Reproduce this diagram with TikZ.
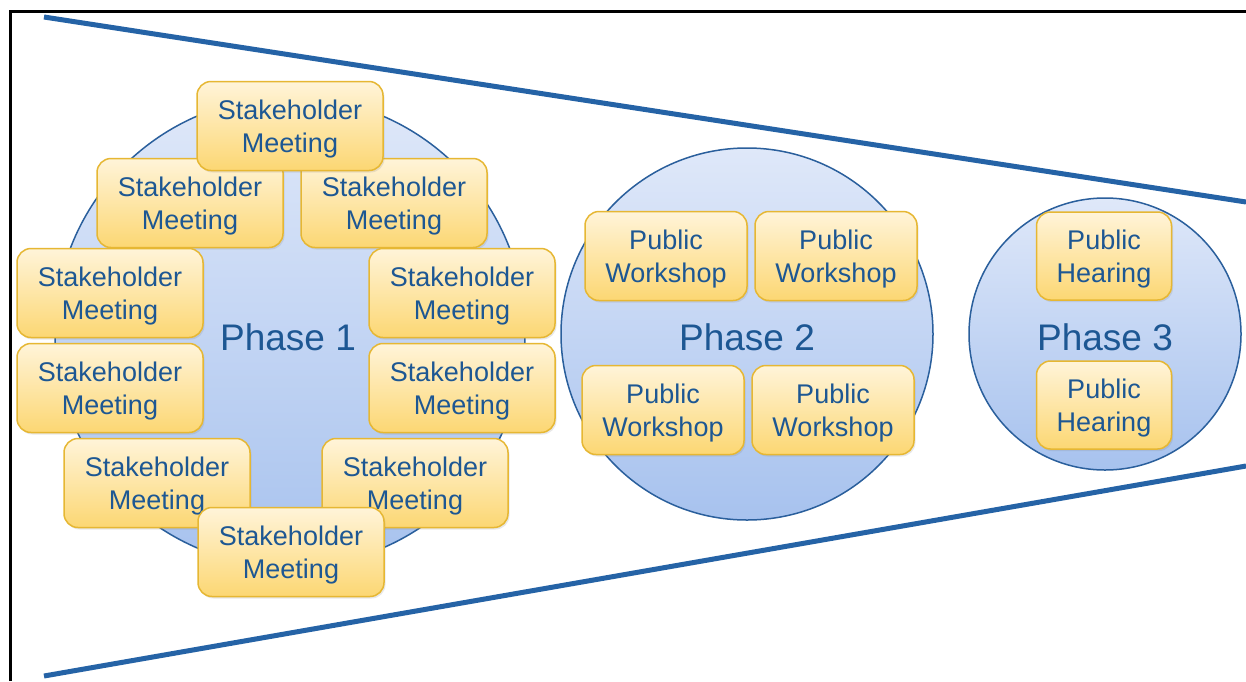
\documentclass[tikz,border=0pt]{standalone}
\usepackage{fontspec}
\setmainfont{Liberation Sans}
\usetikzlibrary{shadows}
\definecolor{circtop}{HTML}{DFE8F9}
\definecolor{circbot}{HTML}{A7C2EE}
\definecolor{circline}{HTML}{2A5F9C}
\definecolor{boxtop}{HTML}{FFF4D9}
\definecolor{boxbot}{HTML}{FCD773}
\definecolor{boxline}{HTML}{E6B733}
\definecolor{txtblue}{HTML}{1D5793}
\definecolor{bigline}{HTML}{2563A6}
\tikzset{
  phase/.style={circle, draw=circline, line width=1.5pt, top color=circtop, bottom color=circbot, inner sep=0pt},
  phaselabel/.style={text=txtblue, font=\fontsize{37}{40}\selectfont},
  event/.style={rectangle, rounded corners=14pt, draw=boxline, line width=1.5pt, top color=boxtop, bottom color=boxbot,
    inner sep=0pt,
    drop shadow={opacity=0.18, shadow xshift=1.5pt, shadow yshift=-2pt},
    label={[text=txtblue, font=\fontsize{27}{33}\selectfont, align=center, yshift=-3pt]center:#1}},
  sm/.style={event={#1}, minimum width=186pt, minimum height=89pt},
  pw/.style={event={#1}, minimum width=162pt, minimum height=89pt},
  ph/.style={event={#1}, minimum width=135pt, minimum height=88pt},
  funnel/.style={draw=bigline, line width=5pt},
  frame/.style={draw=black, line width=3pt}
}
\begin{document}
\begin{tikzpicture}[x=1pt, y=-1pt]
\useasboundingbox (0,0) rectangle (1246,681);
\fill[white] (0,0) rectangle (1246,681);
% frame
\draw[frame] (10,681) -- (10,11) -- (1246,11);
% funnel lines
\coordinate (t1) at (44,17);
\coordinate (t2) at (1246,202);
\coordinate (b1) at (44,676);
\coordinate (b2) at (1246,466);
\draw[funnel] (t1) -- (t2);
\draw[funnel] (b1) -- (b2);
% phase circles
\node[phase, minimum size=470pt] (p1) at (290,332) {};
\node[phase, minimum size=372pt] (p2) at (747,334) {};
\node[phase, minimum size=272pt] (p3) at (1105,334) {};
\node[phaselabel] (l1) at (288,337) {Phase 1};
\node[phaselabel] (l2) at (747,337) {Phase 2};
\node[phaselabel] (l3) at (1105,337) {Phase 3};
% phase 1 stakeholder meetings
\node[sm={Stakeholder\\Meeting}] (s2) at (190,203) {};
\node[sm={Stakeholder\\Meeting}] (s3) at (394,203) {};
\node[sm={Stakeholder\\Meeting}] (s1) at (290,126) {};
\node[sm={Stakeholder\\Meeting}] (s4) at (110,293) {};
\node[sm={Stakeholder\\Meeting}] (s5) at (110,388) {};
\node[sm={Stakeholder\\Meeting}] (s6) at (462,293) {};
\node[sm={Stakeholder\\Meeting}] (s7) at (462,388) {};
\node[sm={Stakeholder\\Meeting}] (s8) at (157,483) {};
\node[sm={Stakeholder\\Meeting}] (s9) at (415,483) {};
\node[sm={Stakeholder\\Meeting}] (s10) at (291,552) {};
% phase 2 workshops
\node[pw={Public\\Workshop}] (w1) at (666,256) {};
\node[pw={Public\\Workshop}] (w2) at (836,256) {};
\node[pw={Public\\Workshop}] (w3) at (663,410) {};
\node[pw={Public\\Workshop}] (w4) at (833,410) {};
% phase 3 hearings
\node[ph={Public\\Hearing}] (h1) at (1104,256) {};
\node[ph={Public\\Hearing}] (h2) at (1104,405) {};
\end{tikzpicture}
\end{document}
